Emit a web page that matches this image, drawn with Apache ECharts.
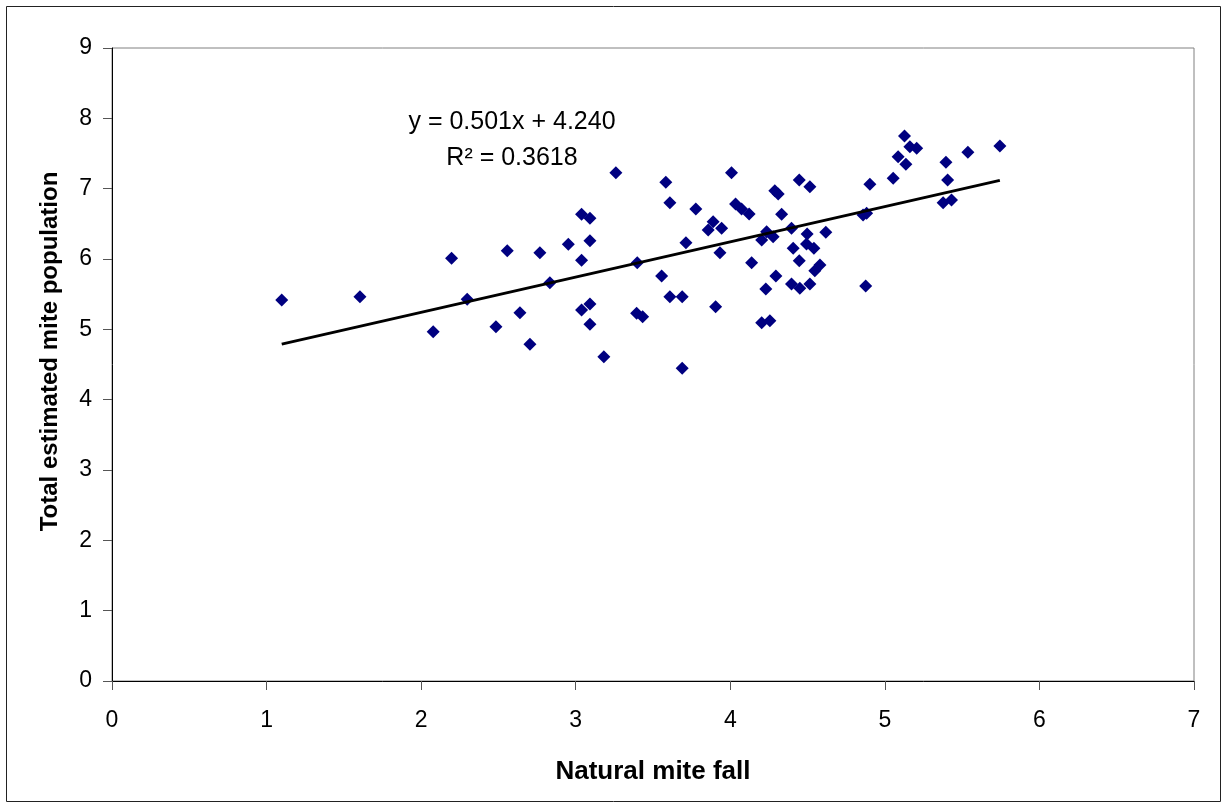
<!DOCTYPE html>
<html>
<head>
<meta charset="utf-8">
<script src="https://cdn.jsdelivr.net/npm/echarts@6/dist/echarts.min.js"></script>
<style>
html, body { margin: 0; padding: 0; background: #fff; }
#chart { width: 1222px; height: 811px; }
</style>
</head>
<body>
<div id="chart"></div>
<script>
// natural mite fall (x) vs total estimated mite population (y)
var mite_fall = [1.098, 1.604, 2.197, 2.078, 2.298, 2.484, 2.557, 2.639, 2.704, 2.768,
    2.833, 2.952, 3.038, 3.092, 3.092, 3.038, 3.038, 3.092, 3.092, 3.182,
    3.260, 3.398, 3.394, 3.433, 3.583, 3.609, 3.556, 3.609, 3.689, 3.689,
    3.713, 3.777, 3.857, 3.889, 3.944, 3.933, 3.905, 4.008, 4.034, 4.073,
    4.122, 4.138, 4.203, 4.235, 4.277, 4.230, 4.203, 4.256, 4.288, 4.310,
    4.332, 4.295, 4.396, 4.407, 4.396, 4.446, 4.515, 4.497, 4.493, 4.541,
    4.446, 4.450, 4.515, 4.580, 4.547, 4.618, 4.859, 4.882, 4.876, 4.903,
    5.054, 5.086, 5.127, 5.136, 5.162, 5.206, 5.395, 5.406, 5.377, 5.431,
    5.537, 5.744];
var mite_pop = [5.417, 5.464, 6.010, 4.967, 5.427, 5.038, 6.118, 5.237, 4.787, 6.090,
    5.663, 6.209, 6.636, 6.579, 6.261, 5.982, 5.275, 5.360, 5.072, 4.611,
    7.227, 5.948, 5.228, 5.180, 7.091, 6.801, 5.759, 5.464, 5.464, 4.446,
    6.232, 6.711, 6.413, 6.531, 6.437, 6.090, 5.322, 7.227, 6.782, 6.711,
    6.640, 5.948, 6.270, 6.389, 6.317, 5.574, 5.095, 5.123, 6.971, 6.925,
    6.636, 5.759, 6.437, 6.152, 5.645, 7.124, 7.028, 6.356, 6.213, 6.152,
    5.976, 5.584, 5.645, 5.915, 5.834, 6.380, 6.626, 6.650, 5.616, 7.062,
    7.148, 7.455, 7.749, 7.347, 7.597, 7.574, 7.375, 7.124, 6.801, 6.839,
    7.517, 7.607];

// linear trend from the chart label
var slope = 0.501, intercept = 4.240;

var points = mite_fall.map(function (x, i) { return [x, mite_pop[i]]; });
var xmin = Math.min.apply(null, mite_fall), xmax = Math.max.apply(null, mite_fall);
var trend = [[xmin, slope * xmin + intercept], [xmax, slope * xmax + intercept]];

var font = 'Arial, "Liberation Sans", sans-serif';
var chart = echarts.init(document.getElementById('chart'));

chart.setOption({
    backgroundColor: '#fff',
    animation: false,
    grid: {
        left: 112, right: 28, top: 48, bottom: 130,
        show: true, borderColor: '#808080', borderWidth: 1
    },
    xAxis: {
        type: 'value', min: 0, max: 7, interval: 1,
        name: 'Natural mite fall', nameLocation: 'middle', nameGap: 78,
        nameTextStyle: { fontFamily: font, fontSize: 26, fontWeight: 'bold', color: '#000' },
        axisLine: { show: true, onZero: false, lineStyle: { color: '#000', width: 1 } },
        axisTick: { show: true, length: 9, lineStyle: { color: '#555' } },
        axisLabel: { fontFamily: font, fontSize: 23, color: '#000', margin: 28 },
        splitLine: { show: false }
    },
    yAxis: {
        type: 'value', min: 0, max: 9, interval: 1,
        name: 'Total estimated mite population', nameLocation: 'middle', nameGap: 50,
        nameTextStyle: { fontFamily: font, fontSize: 24, fontWeight: 'bold', color: '#000', padding: [0, 0, 0, 26] },
        axisLine: { show: true, onZero: false, lineStyle: { color: '#000', width: 1 } },
        axisTick: { show: true, length: 9, lineStyle: { color: '#555' } },
        axisLabel: { fontFamily: font, fontSize: 23, color: '#000', margin: 20 },
        splitLine: { show: false }
    },
    series: [{
        type: 'scatter',
        data: points,
        symbol: 'diamond',
        symbolSize: 13,
        itemStyle: { color: '#000080', opacity: 1 },
        z: 3
    }, {
        type: 'line',
        data: trend,
        symbol: 'none',
        lineStyle: { color: '#000', width: 3 },
        z: 4
    }],
    graphic: [{
        type: 'rect',
        shape: { x: 6.5, y: 6.5, width: 1214, height: 795 },
        style: { fill: 'none', stroke: '#222', lineWidth: 1 },
        silent: true
    }, {
        type: 'text',
        x: 512, y: 140,
        style: {
            text: 'y = 0.501x + 4.240\nR² = 0.3618',
            font: '25px ' + font, fill: '#000',
            textAlign: 'center', textVerticalAlign: 'middle', lineHeight: 36
        }
    }]
});
</script>
</body>
</html>
